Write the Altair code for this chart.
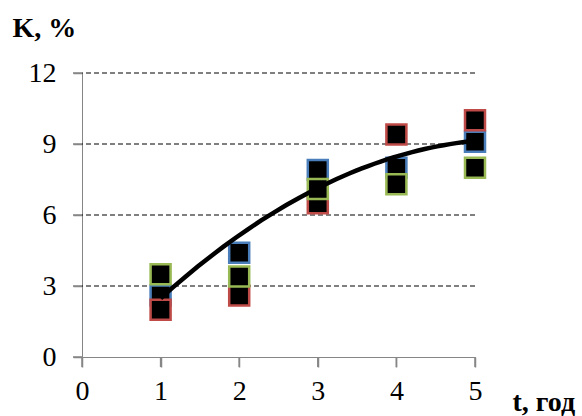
import altair as alt
import pandas as pd

# Measurements: time in years, K in percent, three series
t_vals = [1, 2, 3, 4, 5]
k_blue = [2.6, 4.4, 7.9, 8.0, 9.1]
k_red = [2.0, 2.6, 6.5, 9.4, 10.0]
k_green = [3.5, 3.4, 7.1, 7.3, 8.0]

# Trend curve values at each year
trend_t = [1, 2, 3, 4, 5]
trend_k = [2.5, 5.1, 7.15, 8.5, 9.12]

# Tick positions on both axes
x_ticks = [0, 1, 2, 3, 4, 5]
y_ticks = [0, 3, 6, 9, 12]
grid_levels = [3, 6, 9, 12]

series_names = ["s1", "s2", "s3"]
series_colors = ["#4A7EBB", "#BE4B48", "#98B954"]

rows = []
for i, (name, vals) in enumerate(zip(series_names, [k_blue, k_red, k_green])):
    for t, k in zip(t_vals, vals):
        rows.append({"t": t, "k": k, "series": name, "ord": i})
points_df = pd.DataFrame(rows)
trend_df = pd.DataFrame({"t": trend_t, "k": trend_k})

FONT = "Liberation Serif"
AXIS_GRAY = "#868686"

x_scale = alt.Scale(domain=[0, 5], nice=False, zero=True)
y_scale = alt.Scale(domain=[0, 12], nice=False)

x_axis = alt.Axis(
    values=x_ticks, format="d", grid=False, ticks=True,
    labelFlush=False, labelOverlap=False,
    domainColor=AXIS_GRAY, tickColor=AXIS_GRAY, tickSize=10, tickWidth=1.5,
    tickOpacity=1, tickOffset=0,
    labelFont=FONT, labelFontSize=28, labelColor="black", labelPadding=10,
    title="t, год", titleFont=FONT, titleFontSize=28, titleFontWeight="bold",
    titleColor="black", titleX=430, titleY=53, titleAlign="left",
    titleBaseline="alphabetic", titleAngle=0,
)
y_axis = alt.Axis(
    values=y_ticks, format="d", grid=False, ticks=True,
    labelFlush=False, labelOverlap=False,
    domainColor=AXIS_GRAY, tickColor=AXIS_GRAY, tickSize=9, tickWidth=1.5,
    tickOpacity=1, tickOffset=0,
    labelFont=FONT, labelFontSize=28, labelColor="black", labelPadding=17,
    title="K, %", titleFont=FONT, titleFontSize=28, titleFontWeight="bold",
    titleColor="black", titleX=-70, titleY=-37, titleAlign="left",
    titleBaseline="alphabetic", titleAngle=0,
)

# Axes carrier layer (invisible points)
base_axes = alt.Chart(points_df).mark_point(opacity=0).encode(
    x=alt.X("t:Q", scale=x_scale, axis=x_axis),
    y=alt.Y("k:Q", scale=y_scale, axis=y_axis),
)

# Dashed horizontal gridlines
grid = alt.Chart(pd.DataFrame({"g": grid_levels})).mark_rule(
    color="black", strokeDash=[5, 3], strokeWidth=1
).encode(y=alt.Y("g:Q", scale=y_scale, axis=y_axis))

# Outward tick marks below the x axis and left of the y axis
x_tick_marks = alt.Chart(pd.DataFrame({"v": x_ticks})).mark_rule(
    color=AXIS_GRAY, strokeWidth=1.5
).encode(
    x=alt.X("v:Q", scale=x_scale, axis=x_axis),
    y=alt.value(284), y2=alt.value(294),
)
y_tick_marks = alt.Chart(pd.DataFrame({"v": y_ticks})).mark_rule(
    color=AXIS_GRAY, strokeWidth=1.5
).encode(
    y=alt.Y("v:Q", scale=y_scale, axis=y_axis),
    x=alt.value(-9), x2=alt.value(0),
)

squares = alt.Chart(points_df).mark_square(
    size=400, filled=True, fill="black", strokeWidth=2.5, opacity=1
).encode(
    x=alt.X("t:Q", scale=x_scale, axis=x_axis),
    y=alt.Y("k:Q", scale=y_scale, axis=y_axis),
    stroke=alt.Stroke("series:N", scale=alt.Scale(domain=series_names, range=series_colors), legend=None),
    order=alt.Order("ord:Q"),
)

trend = alt.Chart(trend_df).transform_regression(
    "t", "k", method="poly", order=2, extent=[1, 5]
).mark_line(color="black", strokeWidth=4.5).encode(
    x=alt.X("t:Q", scale=x_scale, axis=x_axis),
    y=alt.Y("k:Q", scale=y_scale, axis=y_axis),
)

chart = alt.layer(base_axes, grid, x_tick_marks, y_tick_marks, squares, trend).properties(
    width=393, height=284,
    autosize=alt.AutoSizeParams(type="none"),
    padding={"left": 82, "top": 73, "right": 107, "bottom": 59},
    background="white",
).configure_view(stroke=None, clip=False)

chart.save("out.html", embed_options={"renderer": "svg", "actions": False})
